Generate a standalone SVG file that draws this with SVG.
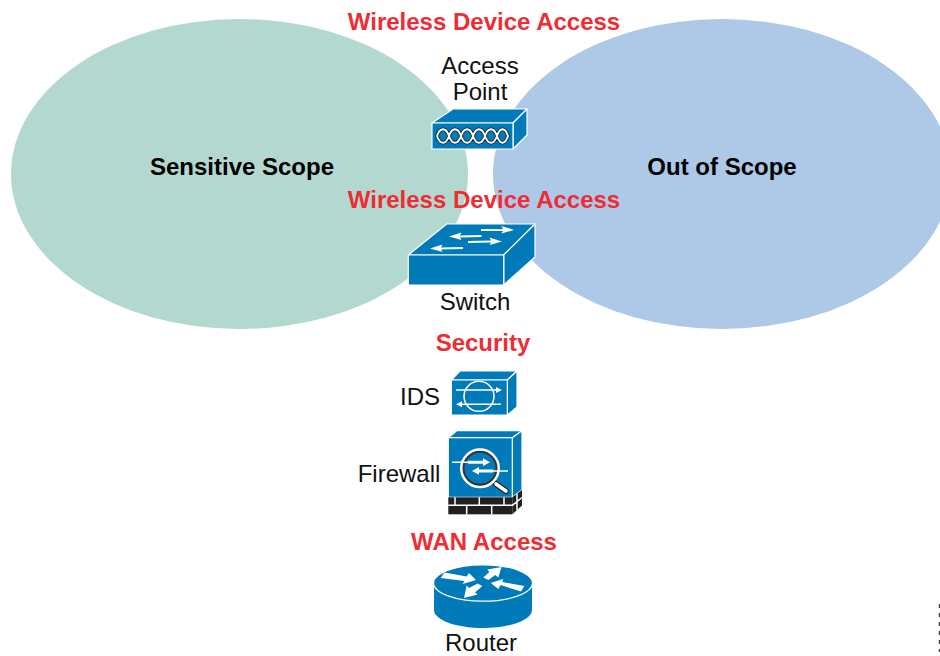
<svg xmlns="http://www.w3.org/2000/svg" width="940" height="656" viewBox="0 0 940 656">
<style>
text{font-family:"Liberation Sans",Arial,sans-serif;text-anchor:middle}
.h{font-size:24px;font-weight:bold;fill:#000}
.r{font-size:24px;font-weight:bold;fill:#ee2c34}
.l{font-size:24px;fill:#111}
.b{fill:#007ab8;stroke:#fff;stroke-width:1.2;stroke-linejoin:round}
.w{fill:none;stroke:#fff;stroke-width:1.5}
.a{fill:#fff;stroke:none}
.bl{stroke:#fff;stroke-width:1.5;fill:none}
</style>
<defs>
<path id="chain" d="M437 136C440 127 446 127 449 136C452 127 458 127 461 136C464 127 470 127 473 136C476 127 482 127 485 136C488 127 494 127 497 136C500 127 505 127 508 136C505 145 500 145 497 136C494 145 488 145 485 136C482 145 476 145 473 136C470 145 464 145 461 136C458 145 452 145 449 136C446 145 440 145 437 136Z"/>
</defs>
<rect width="940" height="656" fill="#fff"/>
<g id="scope-sensitive"><ellipse cx="239.500" cy="174" rx="228.500" ry="155" fill="#b3d8d0"/><text class="h" x="242" y="175">Sensitive Scope</text></g>
<g id="scope-out"><ellipse cx="722" cy="174" rx="229" ry="155" fill="#aec8e7"/><text class="h" x="722" y="175">Out of Scope</text></g>
<g id="labels">
<text class="r" x="484" y="30">Wireless Device Access</text>
<text class="r" x="484" y="208">Wireless Device Access</text>
<text class="r" x="483" y="351">Security</text>
<text class="r" x="484" y="550">WAN Access</text>
</g>
<g id="access-point">
<text class="l" x="480" y="74">Access</text><text class="l" x="480" y="100">Point</text>
<path class="b" d="M432 123L453 109H527L513 123Z"/>
<path class="b" d="M513 123L527 109V135L513 149Z"/>
<rect class="b" x="432" y="123" width="81" height="26"/>
<use href="#chain" fill="none" stroke="#1a1a1a" stroke-width="3.400"/>
<use href="#chain" fill="none" stroke="#fff" stroke-width="1.900"/>
</g>
<g id="switch">
<path class="b" d="M408.300 255L446.700 224H535L503.700 255Z"/>
<path class="b" d="M503.700 255L535 224V257L503.700 285Z"/>
<rect class="b" x="408.300" y="255" width="95.400" height="30"/>
<path class="a" d="M481 229L503 229.200L501.500 226L514 230L501.500 233.500L503 231L481 231Z"/>
<path class="a" d="M481.500 235L460 235.500L461.500 232.500L449 236.500L461.500 240L460 237.500L481.500 237Z"/>
<path class="a" d="M468 241L491 240.500L489.500 237.500L502 241.500L489.500 245L491 242.500L468 243Z"/>
<path class="a" d="M463 247L441 247.500L442.500 244.500L430 248.500L442.500 252L441 249.500L463 249Z"/>
<text class="l" x="475" y="310">Switch</text>
</g>
<g id="ids">
<text class="l" x="420" y="405">IDS</text>
<path class="b" d="M451.300 380L460 371H517L507.300 380Z"/>
<path class="b" d="M507.300 380L517 371V407L507.300 415Z"/>
<rect class="b" x="451.300" y="380" width="56" height="35"/>
<circle class="w" cx="479" cy="396.300" r="15"/>
<path class="w" d="M456 390H499M458 404.300H501"/>
<path class="a" d="M502 390L496 387V393ZM456 404.300L462 401.300V407.300Z"/>
</g>
<g id="firewall">
<text class="l" x="399" y="482">Firewall</text>
<path class="b" d="M448.300 437.700L456.700 430.700H522L512.300 437.700Z"/>
<path class="b" d="M512.300 437.700L522 430.700V490L512.300 497.300Z"/>
<rect class="b" x="448.300" y="437.700" width="64" height="59.600"/>
<rect fill="#231f20" x="448.300" y="497.300" width="64" height="17"/>
<path fill="#231f20" d="M512.300 497.300L522 490V505.500L512.300 514.300Z"/>
<path class="bl" d="M448.300 505.300H512.300M512.300 505.300L522 497.500M455 497.300V505.300M479.300 497.300V505.300M504 497.300V505.300M466.700 505.300V514.300M491.700 505.300V514.300M517 493.500V501.500M517 501.500V510"/>
<path d="M496 484L506 491" stroke="#222" stroke-width="6" stroke-linecap="round"/>
<path d="M496 484L506 491" stroke="#fff" stroke-width="3.600" stroke-linecap="round"/>
<circle cx="480" cy="468.300" r="18.500" fill="#007ab8" stroke="#fff" stroke-width="3"/>
<circle cx="480" cy="468.300" r="16.500" fill="none" stroke="#333" stroke-width="2"/>
<path class="w" d="M452 462.300H470M508 471H492"/>
<path class="a" d="M468 460.800H483V458.300L490 462.300L483 466V463.800H468Z"/>
<path class="a" d="M493 469.500H479V467L472 471L479 474.800V472.500H493Z"/>
</g>
<g id="router">
<path d="M434 583V610C434 620 456 628 483 628S532 620 532 610V583Z" fill="#007ab8"/>
<ellipse cx="483" cy="583" rx="49.500" ry="18.200" fill="#007ab8" stroke="#fff" stroke-width="1.200"/>
<path class="a" d="M440.700 578L444.300 572.500L466.700 576.500L469 573L476 580L462.700 584L464.300 581Z"/>
<path class="a" d="M483.300 577.500L489.300 572L487.300 569.500L501.500 567L498.300 577.500L495.300 575L488.300 580Z"/>
<path class="a" d="M524.300 586L521 591.500L500.500 585L498.300 589L490.700 583L503.300 579L502.300 582Z"/>
<path class="a" d="M482.300 586L475 592.500L477.700 594.500L464 598L466.700 585.500L469 588L477.700 583.500Z"/>
<text class="l" x="481" y="650.500">Router</text>
</g>
<g id="connectors"/>
<path d="M939.500 604V652" stroke="#444" stroke-width="1.500" stroke-dasharray="4 5" fill="none"/>
</svg>
